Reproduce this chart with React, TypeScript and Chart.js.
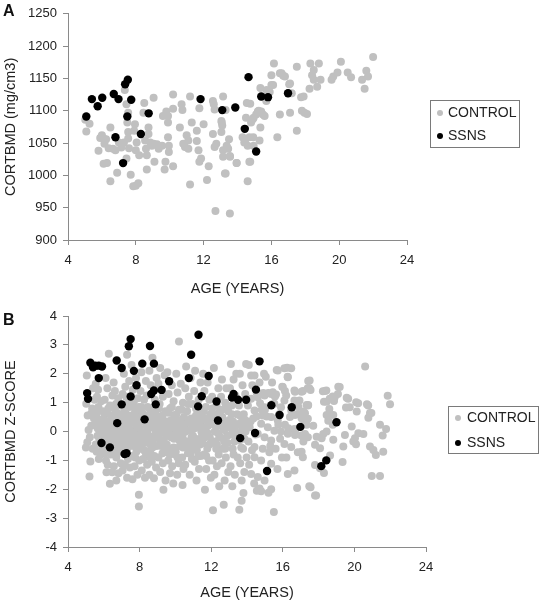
import React, { useEffect, useRef } from "react";
import { Chart, registerables } from "chart.js";
Chart.register(...registerables);

const FONT = "'Liberation Sans', Arial, Helvetica, sans-serif";
const GRAY = "#c0c0c0";
const BLACK = "#000000";
const AXIS = "#8a8a8a";
const TEXT = "#222222";

const seriesLabels = ["CONTROL", "SSNS"];
const xTitle = "AGE (YEARS)";
const aYTitle = "CORTBMD (mg/cm3)";
const bYTitle = "CORTBMD Z-SCORE";

// Panel A: age (years), cortical BMD (mg/cm3)
const aControl: number[][] = [
  [5.02,1086],[5.08,1068],[5.27,1080],[5.8,1038],[5.9,1058],[6.0,1062],[6.1,1057],[6.1,1018],[6.3,1019],[6.15,1049],
  [6.25,1056],[6.5,991],[6.5,1074],[6.4,1042],[6.65,1041],[6.8,1039],[6.9,1004],[7.0,1051],[7.15,1043],[7.3,1051],
  [7.35,1132],[7.45,1110],[7.55,1097],[7.5,1082],[7.55,1067],[7.55,1057],[7.6,1042],[7.45,1026],[7.7,1001],[7.85,983],
  [8.0,984],[8.15,988],[8.2,1031],[7.9,1069],[7.95,1079],[8.05,1051],[8.0,1039],[8.45,1097],[8.5,1112],[8.55,1054],
  [8.6,1041],[8.65,1031],[8.75,1074],[8.75,1064],[8.65,1009],[8.85,1051],[9.05,1049],[8.95,1046],[9.25,1048],[9.05,1120],
  [9.1,1021],[9.35,1041],[9.55,1046],[9.6,1092],[9.8,1099],[9.9,1092],[9.9,1082],[9.9,1059],[9.95,1046],[9.95,1036],
  [9.7,1009],[9.75,1021],[10.2,1014],[10.2,1103],[10.2,1125],[10.6,1074],[10.7,1110],[10.75,1101],[10.8,1049],[10.9,1044],
  [11.0,1062],[11.1,1054],[11.1,1041],[11.2,986],[11.2,1122],[11.3,1082],[11.6,1069],[11.6,1053],[11.7,1039],[11.75,1021],
  [11.85,1026],[11.75,1104],[12.0,1079],[12.2,993],[12.3,1014],[12.55,1115],[12.55,1064],[12.65,1102],[12.65,1044],[12.75,1049],
  [12.7,945],[13.15,1122],[13.05,1084],[13.1,1077],[13.05,1067],[13.15,1039],[13.15,1029],[13.3,1003],[13.45,1041],[13.5,1056],
  [13.55,1030],[13.55,941],[13.95,1019],[14.3,1059],[14.4,1051],[14.55,1112],[14.6,1046],[14.5,1089],[14.6,991],[14.7,1059],
  [14.75,1021],[14.8,1082],[14.9,1087],[14.95,1046],[15.1,1094],[15.2,1099],[15.3,1054],[15.35,1135],[15.4,1099],[15.6,1092],
  [15.7,1122],[15.7,1115],[15.9,1129],[16.0,1140],[16.0,1155],[16.15,1173],[16.35,1059],[16.5,1094],[16.5,1158],[16.7,1154],
  [17.05,1141],[17.2,1127],[17.1,1097],[17.5,1168],[17.5,1069],[17.75,1121],[17.8,1100],[17.95,1097],[18.1,1095],[18.25,1134],
  [18.3,1173],[18.8,1173],[18.5,1163],[18.4,1155],[18.5,1148],[18.9,1148],[18.7,1137],[20.1,1176],[19.9,1159],[19.65,1153],
  [19.55,1148],[20.5,1159],[20.7,1152],[21.35,1148],[21.6,1162],[21.7,1153],[21.5,1134],[22.0,1183],[15.25,1100],[15.5,1094],
  [14.95,1089],[15.35,1074],[14.75,1111],[16.6,1158],[16.8,1153],[17.1,1142],[15.72,1132],[17.9,1122],[17.0,1127],[16.1,1140],
  [14.44,1052],[14.93,1059],[13.95,1019],[14.7,1021],[13.26,1003],[13.56,1029],[13.07,1082],[13.36,1046],[12.6,1110],[13.3,1101]
];
const aSSNS: number[][] = [
  [5.08,1091],[5.41,1118],[5.75,1107],[6.02,1120],[6.7,1126],[6.98,1118],[6.8,1059],[7.25,1019],[7.37,1141],[7.53,1148],
  [7.5,1091],[7.73,1117],[8.3,1064],[8.76,1096],[11.82,1118],[13.1,1101],[13.87,1105],[14.43,1072],[14.65,1152],[15.1,1037],
  [15.4,1122],[15.8,1121],[16.98,1127]
];

// Panel B: age (years), cortical BMD Z-score
const bControl: number[][] = [
  [5.05,1.94],[5.1,0.55],[5.02,0.96],[5.08,-0.37],[5.0,-0.55],[5.25,-1.04],[5.2,-1.56],[5.3,0.2],[5.15,0.05],[5.35,0.8],
  [5.4,1.5],[5.22,-0.2],[5.45,0.45],[5.38,-0.6],[5.48,1.1],[5.3,0.62],
  [5.55,1.65],[5.62,1.2],[5.7,0.85],[5.58,0.5],[5.8,0.3],[5.66,0.1],[5.9,-0.1],[5.75,-0.25],[5.95,0.7],[5.85,1.05],
  [5.6,-0.7],[5.72,-0.95],[5.92,-0.55],[5.52,0.25],[5.98,0.45],[5.82,-0.8],[5.68,1.45],[5.88,0.0],
  [6.28,2.69],[6.1,1.85],[6.2,1.5],[6.05,1.1],[6.35,0.9],[6.15,0.65],[6.42,0.4],[6.08,0.3],[6.25,0.15],[6.45,-0.05],
  [6.02,-0.2],[6.3,-0.35],[6.18,-0.6],[6.4,-0.8],[6.12,-1.0],[6.15,-1.41],[6.47,-1.41],[6.34,-1.81],[6.22,-1.15],[6.38,0.55],
  [6.48,1.25],[6.05,-0.45],[6.32,-0.12],
  [6.7,-1.7],[6.55,1.7],[6.62,1.4],[6.8,1.15],[6.58,0.8],[6.9,0.6],[6.65,0.45],[6.85,0.2],[6.52,0.05],[6.95,-0.1],
  [6.75,-0.3],[6.6,-0.5],[6.88,-0.7],[6.7,-0.9],[6.95,-1.1],[6.56,-1.2],[6.82,-1.45],[6.98,0.35],[6.68,0.95],[6.92,-0.45],
  [6.78,0.0],[6.58,-0.15],
  [7.3,2.66],[7.12,2.0],[7.42,1.75],[7.2,1.55],[7.05,1.3],[7.35,1.0],[7.15,0.75],[7.45,0.55],[7.08,0.4],[7.28,0.2],
  [7.48,0.05],[7.02,-0.1],[7.25,-0.25],[7.4,-0.45],[7.1,-0.55],[7.35,-0.95],[7.18,-1.15],[7.46,-1.25],[7.05,-1.35],[7.3,-1.6],
  [7.22,0.62],[7.38,-0.1],[7.12,0.1],[7.44,0.85],
  [7.96,-2.19],[7.96,-2.6],[7.55,2.3],[7.8,1.85],[7.62,1.45],[7.9,1.15],[7.58,0.9],[7.75,0.7],[7.95,0.5],[7.6,0.3],
  [7.85,0.15],[7.7,-0.05],[7.52,-0.2],[7.92,-0.35],[7.65,-0.5],[7.82,-0.7],[7.55,-0.85],[7.98,-1.0],[7.72,-1.2],[7.88,-1.5],
  [7.6,-1.65],[7.78,0.4],[7.68,1.05],[7.9,-0.15],
  [8.1,2.05],[8.35,1.75],[8.05,1.4],[8.25,1.1],[8.45,0.85],[8.15,0.65],[8.4,0.2],[8.02,0.1],[8.3,-0.05],[8.18,-0.25],
  [8.48,-0.4],[8.08,-0.6],[8.35,-0.75],[8.2,-0.95],[8.42,-1.15],[8.12,-1.35],[8.3,-1.6],[8.45,0.5],[8.22,0.35],[8.05,-0.15],
  [8.4,1.25],
  [8.72,2.55],[8.55,2.1],[8.95,1.85],[8.62,1.6],[8.85,1.1],[8.58,0.75],[8.78,0.55],[8.98,0.35],[8.65,0.15],[8.9,0.0],
  [8.52,-0.15],[8.75,-0.3],[8.95,-0.5],[8.6,-0.65],[8.82,-0.85],[8.68,-1.05],[8.92,-1.25],[8.55,-1.5],[8.8,-1.62],[8.7,0.3],
  [8.88,0.65],[8.62,-0.45],
  [9.33,-2.02],[9.15,2.2],[9.4,1.95],[9.05,1.65],[9.3,1.2],[9.12,0.95],[9.45,0.7],[9.02,0.5],[9.25,0.3],[9.48,0.1],
  [9.1,-0.1],[9.35,-0.3],[9.2,-0.5],[9.42,-0.7],[9.05,-0.9],[9.3,-1.1],[9.15,-1.4],[9.45,-1.7],[9.22,0.15],[9.38,-0.05],
  [9.08,0.8],
  [9.55,2.05],[9.8,1.6],[9.62,1.3],[9.9,1.05],[9.7,0.8],[9.95,0.55],[9.58,0.35],[9.85,0.15],[9.65,-0.05],[9.92,-0.25],
  [9.52,-0.45],[9.75,-0.6],[9.98,-0.8],[9.6,-1.0],[9.82,-1.2],[9.7,-1.45],[9.88,-1.8],[9.78,0.4],[9.6,0.65],[9.95,-0.1],
  [10.2,3.12],[10.4,-1.85],[10.05,2.0],[10.3,1.65],[10.12,1.35],[10.42,1.0],[10.2,0.75],[10.48,0.5],[10.08,0.3],[10.35,0.1],
  [10.15,-0.1],[10.45,-0.3],[10.25,-0.5],[10.02,-0.7],[10.38,-0.9],[10.18,-1.1],[10.45,-1.3],[10.1,-1.5],[10.28,0.2],[10.4,-0.15],
  [10.05,0.6],
  [10.6,2.25],[10.85,1.85],[10.55,1.5],[10.75,1.2],[10.95,0.95],[10.65,0.7],[10.88,0.45],[10.52,0.25],[10.78,0.05],[10.98,-0.15],
  [10.6,-0.35],[10.82,-0.55],[10.7,-0.75],[10.92,-0.95],[10.55,-1.15],[10.8,-1.5],[10.68,0.3],[10.9,-0.2],
  [11.1,2.1],[11.4,1.7],[11.05,1.4],[11.3,1.1],[11.15,0.8],[11.45,0.6],[11.02,0.35],[11.25,0.15],[11.48,-0.05],[11.12,-0.25],
  [11.38,-0.45],[11.2,-0.65],[11.42,-0.85],[11.08,-1.05],[11.32,-1.3],[11.18,-1.7],[11.28,0.4],[11.45,0.0],
  [11.65,-2.02],[11.55,2.0],[11.8,1.7],[11.62,1.4],[11.9,1.1],[11.7,0.85],[11.95,0.6],[11.58,0.4],[11.82,0.2],[11.68,0.0],
  [11.92,-0.2],[11.52,-0.4],[11.78,-0.6],[11.6,-0.8],[11.88,-1.0],[11.72,-1.3],[11.98,-1.6],[11.85,0.35],
  [12.1,-2.73],[12.15,2.2],[12.4,1.5],[12.05,1.2],[12.3,0.9],[12.48,0.7],[12.12,0.5],[12.35,0.2],[12.2,0.0],[12.45,-0.2],
  [12.02,-0.4],[12.28,-0.6],[12.42,-0.8],[12.08,-1.0],[12.32,-1.2],[12.18,-1.5],[12.45,-1.9],[12.25,0.3],
  [12.7,-2.54],[12.6,1.8],[12.85,1.5],[12.55,1.2],[12.78,1.0],[12.95,0.7],[12.62,0.5],[12.88,0.3],[12.7,0.05],[12.52,-0.2],
  [12.92,-0.4],[12.65,-0.6],[12.82,-0.9],[12.58,-1.1],[12.95,-1.4],[12.75,-1.7],[12.68,0.2],
  [13.1,2.34],[13.4,2.0],[13.25,1.8],[13.05,1.5],[13.35,1.25],[13.15,0.9],[13.45,0.6],[13.02,0.4],[13.28,0.1],[13.12,-0.1],
  [13.42,-0.3],[13.2,-0.6],[13.48,-0.9],[13.08,-1.2],[13.32,-1.5],[13.18,-1.9],[13.38,0.2],
  [13.95,2.34],[13.57,-2.71],[13.8,-2.13],[13.7,-2.4],[13.6,2.0],[13.75,1.6],[13.9,1.3],[13.55,0.9],[13.82,0.6],[13.65,0.3],
  [13.92,0.0],[13.58,-0.3],[13.78,-0.6],[13.98,-0.9],[13.62,-1.1],[13.85,-1.4],[13.7,-1.7],[13.88,0.2],
  [14.23,1.94],[14.42,1.94],[14.1,2.3],[14.23,1.13],[14.42,0.73],[14.42,-0.54],[14.42,-0.89],[14.23,-1.47],[14.3,1.6],[14.05,0.9],
  [14.35,0.45],[14.15,0.15],[14.48,-0.1],[14.08,-0.35],[14.28,-0.65],[14.12,-1.15],[14.4,-1.8],[14.2,0.35],
  [14.55,-2.05],[14.7,-1.97],[14.79,-2.07],[14.6,-1.58],[14.98,-1.7],[14.79,-1.0],[14.88,-0.6],[14.6,-0.08],[14.98,-0.2],[14.79,0.27],
  [14.88,0.55],[14.98,0.84],[14.6,1.19],[14.98,1.25],[14.54,1.33],[14.91,1.33],[14.73,0.98],[14.82,0.75],[14.54,0.52],[14.95,2.0],
  [14.7,1.7],
  [15.2,-2.12],[15.35,-2.0],[15.5,-2.79],[15.35,-1.12],[15.25,-0.72],[15.35,-0.31],[15.16,0.15],[15.35,0.5],[15.0,0.75],[15.1,0.52],
  [15.19,1.33],[15.35,1.3],[15.44,1.36],[15.4,1.7],[15.05,1.9],[15.45,0.96],[15.3,-0.5],
  [15.53,0.03],[15.72,0.38],[15.53,0.96],[15.9,0.84],[15.62,1.28],[15.75,0.23],[15.56,1.21],[15.72,2.11],[15.66,2.13],[15.97,1.55],
  [15.85,-0.25],[15.6,-0.6],[15.95,-0.9],[15.7,-1.3],[15.9,0.0],[15.8,0.6],
  [16.09,2.19],[16.24,2.21],[16.47,2.19],[16.28,1.88],[16.27,1.9],[16.0,1.54],[16.12,1.4],[16.65,1.42],[16.93,1.07],[16.19,1.25],
  [16.09,1.07],[16.65,1.07],[16.47,0.73],[16.84,0.61],[16.65,0.09],[16.28,-0.08],[16.09,-0.43],[16.47,-0.54],[16.84,-0.72],[16.65,-1.35],
  [16.28,-1.47],[16.8,-1.96],[16.68,1.38],[16.87,0.86],[16.68,0.57],[16.12,0.23],[16.31,0.11],[16.68,-0.12],[16.68,0.0],[16.4,0.5],
  [16.2,-0.9],
  [17.12,1.4],[17.5,1.77],[17.55,1.44],[17.4,0.9],[17.12,0.55],[17.4,0.44],[17.03,-0.14],[17.4,-0.2],[17.12,-0.89],[17.55,-1.93],
  [17.86,-2.22],[17.42,1.75],[17.48,1.5],[17.05,1.38],[17.39,1.5],[17.33,0.92],[17.24,0.63],[17.05,0.46],[17.24,0.34],[17.15,-0.35],
  [17.42,0.92],[17.15,0.69],[17.33,0.23],[17.24,-0.09],[17.05,-0.7],[17.89,-0.18],[17.8,-0.46],[17.8,-1.16],[17.48,-1.9],[17.8,-2.22],
  [17.7,0.2],
  [18.36,1.4],[18.79,1.21],[18.86,1.06],[18.3,1.03],[18.45,1.03],[18.6,0.78],[18.45,0.57],[18.82,0.57],[18.54,0.37],[18.79,0.23],
  [18.45,0.0],[18.26,-0.09],[18.17,-0.23],[18.08,-0.58],[18.82,-0.29],[18.64,-0.83],[18.08,-1.27],[18.3,-1.44],[18.24,1.39],[18.43,1.42],
  [18.62,1.13],[18.9,1.19],
  [19.08,1.3],[19.18,1.54],[19.1,1.55],[19.57,1.17],[19.53,0.83],[19.65,1.13],[19.74,0.84],[20.1,1.01],[20.13,0.69],[20.21,0.98],
  [20.7,0.94],[20.77,0.9],[20.87,0.64],[20.78,0.48],[20.95,0.64],[21.86,1.24],[21.99,0.94],[21.43,0.23],[21.77,0.09],[21.58,-0.14],
  [19.85,0.17],[20.5,-0.09],[20.22,-0.06],[20.03,-0.23],[19.94,-0.35],[20.09,-0.44],[19.47,-0.12],[19.38,-0.52],[20.87,-0.52],[21.06,-0.64],
  [21.2,-0.81],[21.61,-0.7],[19.34,-1.06],[20.97,-1.54],[21.43,-1.54],[20.6,2.25],
  // dense core
  [5.62,0.65],[5.78,0.05],[5.55,-0.45],[5.85,-0.4],[5.7,0.35],[5.95,0.15],[5.65,-0.15],
  [6.1,0.0],[6.28,0.35],[6.4,0.15],[6.2,-0.15],[6.35,-0.55],[6.1,-0.75],[6.25,0.8],[6.45,-0.3],
  [6.6,0.25],[6.72,0.65],[6.85,-0.15],[6.62,-0.75],[6.8,-0.55],[6.9,0.9],[6.72,-0.05],
  [7.15,-0.3],[7.32,0.4],[7.2,-0.75],[7.42,0.25],[7.08,0.6],[7.35,-0.55],[7.25,1.2],
  [7.62,0.55],[7.8,0.25],[7.7,-0.3],[7.88,-0.5],[7.58,-0.05],[7.75,-0.9],[7.95,0.85],
  [8.1,0.35],[8.28,0.55],[8.15,-0.45],[8.38,-0.2],[8.25,-0.65],[8.1,0.85],[8.45,0.05],
  [8.6,0.5],[8.78,0.15],[8.65,-0.25],[8.85,-0.15],[8.58,-0.9],[8.92,0.85],[8.72,-0.55],
  [9.1,0.3],[9.28,0.55],[9.15,-0.3],[9.4,-0.45],[9.28,-0.75],[9.45,0.35],[9.1,0.1],
  [9.6,0.15],[9.75,-0.2],[9.88,0.35],[9.68,-0.8],[9.9,-0.55],[9.8,0.85],[9.55,-0.15],
  [10.1,0.05],[10.3,0.4],[10.22,-0.3],[10.42,-0.55],[10.12,-0.9],[10.35,0.75],[10.48,0.2],
  [10.58,0.0],[10.75,0.35],[10.65,-0.55],[10.88,-0.4],[10.95,0.2],[10.72,0.95],[10.85,-0.75],
  [11.05,0.1],[11.22,-0.4],[11.35,0.25],[11.15,0.55],[11.4,-0.25],[11.28,-0.85],[11.1,-0.6],
  [11.55,0.15],[11.75,0.45],[11.65,-0.2],[11.9,-0.45],[11.8,-0.05],[11.58,0.7],[11.72,-0.85],
  [12.1,0.25],[12.25,0.6],[12.38,-0.05],[12.15,-0.35],[12.32,-0.45],[12.05,0.8],[12.45,0.35],
  [12.55,0.35],[12.8,0.1],[12.72,-0.35],[12.9,-0.15],[12.6,0.75],[12.85,0.9],[12.78,-0.6],
  [13.05,0.15],[13.22,0.35],[13.4,-0.05],[13.3,-0.35],[13.15,0.6],[13.45,0.25],[13.25,-0.8],
  [13.6,0.55],[13.75,0.1],[13.9,0.4],[13.68,-0.55],[13.85,-0.25],[13.55,-0.05]
];
const bSSNS: number[][] = [
  [5.07,1.33],[5.12,1.13],[5.25,2.38],[5.4,2.22],[5.53,2.28],[5.72,2.28],[5.9,2.25],[5.72,1.85],[5.87,-0.4],[6.34,-0.55],
  [6.75,0.29],[7.0,0.94],[7.0,2.2],[6.72,2.46],[7.16,-0.78],[7.27,-0.75],[7.4,2.95],[7.5,3.2],[7.5,1.21],[7.68,2.1],
  [7.83,1.6],[8.15,2.35],[8.28,0.42],[8.58,2.96],[8.65,1.3],[8.8,2.35],[8.8,1.42],[8.9,0.94],[9.23,1.44],[9.65,1.74],
  [10.75,1.85],[10.88,2.66],[11.29,3.35],[11.27,0.87],[11.47,1.22],[11.86,1.92],[12.3,1.04],[12.38,0.38],[13.16,1.18],[13.25,1.3],
  [13.5,1.1],[13.62,-0.23],[13.95,1.1],[14.45,-0.05],[14.5,1.45],[14.7,2.43],[15.12,-1.37],[15.36,0.91],[15.82,0.57],[16.5,0.84],
  [16.98,0.16],[19.0,0.32],[18.43,-1.0],[18.15,-1.2]
];

type Cfg = {
  control: number[][];
  ssns: number[][];
  yMin: number;
  yMax: number;
  yStep: number;
  yTitle: string;
  padRight: number;
  padTop: number;
  xAxisH: number;
  xTitlePadBottom: number;
  legend: { x: number; y: number; w: number; h: number; dotX: number; textX: number; rowY: number[] };
};

const boxLegend = {
  id: "boxLegend",
  afterDraw(chart: any, _args: any, opts: any) {
    if (!opts || !opts.w) return;
    const { ctx } = chart;
    ctx.save();
    ctx.strokeStyle = "#7a7a7a";
    ctx.lineWidth = 1;
    ctx.strokeRect(opts.x + 0.5, opts.y + 0.5, opts.w, opts.h);
    ctx.font = "14px " + FONT;
    ctx.textBaseline = "middle";
    ctx.textAlign = "left";
    opts.order.forEach((di: number, i: number) => {
      const ds = chart.data.datasets[di];
      const cy = opts.rowY[i];
      ctx.beginPath();
      ctx.fillStyle = ds.backgroundColor;
      ctx.arc(opts.dotX, cy, 3, 0, Math.PI * 2);
      ctx.fill();
      ctx.fillStyle = TEXT;
      ctx.fillText(ds.label, opts.textX, cy + 0.5);
    });
    ctx.restore();
  },
};

function Panel({ cfg, width, height }: { cfg: Cfg; width: number; height: number }) {
  const ref = useRef<HTMLCanvasElement | null>(null);
  useEffect(() => {
    if (!ref.current) return;
    const toPts = (arr: number[][]) => arr.map(([x, y]) => ({ x, y }));
    const chart = new Chart(ref.current, {
      type: "scatter",
      data: {
        datasets: [
          {
            label: seriesLabels[0],
            data: toPts(cfg.control),
            backgroundColor: GRAY,
            borderColor: GRAY,
            borderWidth: 0,
            pointRadius: 4,
            order: 2,
          },
          {
            label: seriesLabels[1],
            data: toPts(cfg.ssns),
            backgroundColor: BLACK,
            borderColor: BLACK,
            borderWidth: 0,
            pointRadius: 4.2,
            order: 1,
          },
        ],
      },
      options: {
        animation: false,
        responsive: false,
        events: [],
        layout: { padding: { left: 0, right: cfg.padRight, top: cfg.padTop, bottom: 0 } },
        plugins: {
          legend: { display: false },
          tooltip: { enabled: false },
          // @ts-ignore
          boxLegend: { ...cfg.legend, order: [0, 1] },
        },
        scales: {
          x: {
            type: "linear",
            min: 4,
            max: 24,
            ticks: {
              stepSize: 4,
              color: TEXT,
              font: { family: FONT, size: 13 },
              padding: 8,
              callback: (v: any) => String(v),
            },
            grid: { drawOnChartArea: false, drawTicks: true, tickLength: 5, color: AXIS },
            border: { color: AXIS, width: 1 },
            title: {
              display: true,
              text: xTitle,
              color: TEXT,
              font: { family: FONT, size: 14.5 },
              padding: { top: 0, bottom: cfg.xTitlePadBottom },
            },
            afterFit: (a: any) => {
              a.height = cfg.xAxisH;
            },
          },
          y: {
            type: "linear",
            min: cfg.yMin,
            max: cfg.yMax,
            ticks: {
              stepSize: cfg.yStep,
              color: TEXT,
              font: { family: FONT, size: 13 },
              padding: 6,
              callback: (v: any) => String(v),
            },
            grid: { drawOnChartArea: false, drawTicks: true, tickLength: 5, color: AXIS },
            border: { color: AXIS, width: 1 },
            title: {
              display: true,
              text: cfg.yTitle,
              color: TEXT,
              font: { family: FONT, size: 14.5 },
              padding: { top: 2, bottom: 0 },
            },
            afterFit: (a: any) => {
              a.width = 68;
            },
          },
        },
      },
      plugins: [boxLegend],
    } as any);
    return () => chart.destroy();
  }, [cfg]);
  return <canvas ref={ref} width={width} height={height} style={{ display: "block", width, height }} />;
}

const cfgA: Cfg = {
  control: aControl,
  ssns: aSSNS,
  yMin: 900,
  yMax: 1250,
  yStep: 50,
  yTitle: aYTitle,
  padRight: 133,
  padTop: 9,
  xAxisH: 60,
  xTitlePadBottom: 2,
  legend: { x: 430, y: 100, w: 89, h: 47, dotX: 440, textX: 448, rowY: [113, 136] },
};

const cfgB: Cfg = {
  control: bControl,
  ssns: bSSNS,
  yMin: -4,
  yMax: 4,
  yStep: 1,
  yTitle: bYTitle,
  padRight: 114,
  padTop: 16,
  xAxisH: 55,
  xTitlePadBottom: 0,
  legend: { x: 448, y: 106, w: 90, h: 47, dotX: 458, textX: 467, rowY: [118, 143] },
};

const labelStyle: React.CSSProperties = {
  position: "absolute",
  left: 3,
  fontFamily: FONT,
  fontWeight: "bold",
  fontSize: 16,
  lineHeight: "18px",
  color: "#111",
};

export default function App() {
  return (
    <div style={{ position: "absolute", left: 0, top: 0, width: 540, height: 602, background: "#fff" }}>
      <div style={{ position: "absolute", left: 0, top: 0 }}>
        <Panel cfg={cfgA} width={540} height={300} />
      </div>
      <div style={{ position: "absolute", left: 0, top: 300 }}>
        <Panel cfg={cfgB} width={540} height={302} />
      </div>
      <div style={{ ...labelStyle, top: 2 }}>A</div>
      <div style={{ ...labelStyle, top: 311 }}>B</div>
    </div>
  );
}
